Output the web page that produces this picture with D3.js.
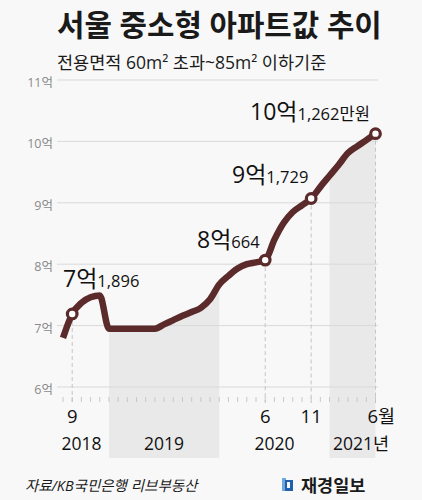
<!DOCTYPE html>
<html><head><meta charset="utf-8">
<script src="https://cdn.jsdelivr.net/npm/d3@7"></script>
<style>
html,body{margin:0;padding:0;background:#f8f8f8;}
svg{display:block;}
text{font-family:"Open Sans","Noto Sans CJK KR",sans-serif;}
</style></head>
<body>
<script>
// ---- data ----
const months = ["2018-08","2018-09","2018-10","2018-11","2018-12",
  "2019-01","2019-02","2019-03","2019-04","2019-05","2019-06","2019-07","2019-08","2019-09","2019-10","2019-11","2019-12",
  "2020-01","2020-02","2020-03","2020-04","2020-05","2020-06","2020-07","2020-08","2020-09","2020-10","2020-11","2020-12",
  "2021-01","2021-02","2021-03","2021-04","2021-05","2021-06"];
const prices = [6.80,7.1896,7.37,7.46,7.49,
  6.95,6.95,6.95,6.95,6.95,6.95,7.02,7.09,7.16,7.22,7.29,7.43,
  7.67,7.81,7.93,8.00,8.03,8.0664,8.40,8.67,8.85,8.96,9.07,9.26,
  9.44,9.62,9.81,9.92,10.02,10.1262];
const markedMonths = ["2018-09","2020-06","2020-11","2021-06"];
const markBig = ["7억","8억","9억","10억"];
const markSmall = ["1,896","664","1,729","1,262만원"];
const yTicks = [6,7,8,9,10,11];
const yTickLabels = ["6억","7억","8억","9억","10억","11억"];
const monthLabels = ["9","6","11","6"];
const yearLabels = ["2018","2019","2020","2021"];
const yearLabelAt = ["2018-10","2019-07","2020-07","2021-03.5"];
const bands = [["2019-01","2020-01"],["2021-01","2021-06"]];
const title = "서울 중소형 아파트값 추이";
const subtitle = "전용면적 60m² 초과~85m² 이하기준";
const source = "자료/KB국민은행 리브부동산";
const brand = "재경일보";

// ---- layout ----
const W = 422, H = 500;
const svg = d3.select("body").append("svg").attr("width", W).attr("height", H);
svg.append("rect").attr("width", W).attr("height", H).attr("fill", "#f8f8f8");

const idx = m => { const [y, mo] = m.split("-"); return (+y - 2018) * 12 + (+mo) - 8; };
const x = d3.scaleLinear().domain([1, 34]).range([72.2, 375.5]);
const y = d3.scaleLinear().domain([6, 11]).range([387, 80]);
const data = months.map((m, i) => ({ i: idx(m), v: prices[i], m }));
const lineColor = "#5b2a2a";
const bandBottom = 458;

// bands (area under the line)
bands.forEach(([a, b]) => {
  const seg = data.filter(d => d.i >= idx(a) && d.i <= idx(b));
  const area = d3.area().x(d => x(d.i)).y0(bandBottom).y1(d => y(d.v)).curve(d3.curveMonotoneX);
  svg.append("path").attr("d", area(seg)).attr("fill", "#e9e9e9");
});

// gridlines
const grid = svg.append("g");
yTicks.forEach((t, k) => {
  grid.append("line").attr("x1", 57).attr("x2", 378).attr("y1", y(t)).attr("y2", y(t))
    .attr("stroke", "#d9d9d9").attr("stroke-width", 1);
  grid.append("text").attr("x", 53).attr("y", y(t) + 7).attr("text-anchor", "end")
    .attr("font-size", 12.5).attr("fill", "#8a8a8a").text(yTickLabels[k]);
});

// month ticks
d3.range(0, 35).forEach(i => {
  svg.append("line").attr("x1", x(i)).attr("x2", x(i)).attr("y1", 397).attr("y2", 402)
    .attr("stroke", "#c8c8c8").attr("stroke-width", 1);
});

// dashed guides
markedMonths.forEach(m => {
  const d = data.find(e => e.m === m);
  svg.append("line").attr("x1", x(d.i)).attr("x2", x(d.i)).attr("y1", y(d.v)).attr("y2", 403)
    .attr("stroke", "#c4c4c4").attr("stroke-width", 1).attr("stroke-dasharray", "4,3");
});

// line
const line = d3.line().x(d => x(d.i)).y(d => y(d.v)).curve(d3.curveMonotoneX);
svg.append("path").attr("d", line(data)).attr("fill", "none").attr("stroke", lineColor)
  .attr("stroke-width", 6.5).attr("stroke-linejoin", "round").attr("stroke-linecap", "butt");

// markers
markedMonths.forEach(m => {
  const d = data.find(e => e.m === m);
  svg.append("circle").attr("cx", x(d.i)).attr("cy", y(d.v)).attr("r", 4.8)
    .attr("fill", "#fff").attr("stroke", lineColor).attr("stroke-width", 3.2);
});

// annotations
const annPos = [[63, 287], [197, 248], [232, 183], [250, 120]];
markedMonths.forEach((m, k) => {
  const t = svg.append("text").attr("x", annPos[k][0]).attr("y", annPos[k][1]).attr("fill", "#111");
  t.append("tspan").attr("font-size", 23).text(markBig[k]);
  t.append("tspan").attr("font-size", 16.5).text(markSmall[k]);
});

// month labels
markedMonths.forEach((m, k) => {
  const t = svg.append("text").attr("x", x(idx(m))).attr("y", 423).attr("font-size", 18.5)
    .attr("fill", "#111").attr("text-anchor", "middle").text(monthLabels[k]);
  if (k === markedMonths.length - 1) {
    t.attr("text-anchor", "start").attr("x", x(idx(m)) - 8);
    t.append("tspan").text("월");
  }
});
// year labels
yearLabels.forEach((yl, k) => {
  const p = yearLabelAt[k].split("-");
  const pos = (+p[0] - 2018) * 12 + (+p[1]) - 8;
  const t = svg.append("text").attr("x", x(pos)).attr("y", 450).attr("font-size", 17.5)
    .attr("fill", "#111").attr("text-anchor", "middle").text(yl);
  if (k === yearLabels.length - 1) {
    t.attr("text-anchor", "start").attr("x", 333);
    t.append("tspan").text("년");
  }
});

// titles
svg.append("text").attr("x", 57).attr("y", 36).attr("font-size", 29.8).attr("font-weight", 600)
  .attr("fill", "#1a1a1a").text(title);
svg.append("text").attr("x", 57).attr("y", 69).attr("font-size", 17.5)
  .attr("fill", "#1a1a1a").text(subtitle);

// footer
svg.append("text").attr("x", 25).attr("y", 491).attr("font-size", 14.5).attr("font-style", "italic")
  .attr("fill", "#1a1a1a").text(source);
const logo = svg.append("g").attr("transform", "translate(282,478)");
logo.append("rect").attr("x", 0).attr("y", 0).attr("width", 4).attr("height", 13).attr("fill", "#6fa8dc");
logo.append("rect").attr("x", 3).attr("y", 2).attr("width", 8).attr("height", 11).attr("fill", "#1f5fae");
logo.append("rect").attr("x", 5).attr("y", 4).attr("width", 3).attr("height", 6).attr("fill", "#f8f8f8");
svg.append("text").attr("x", 301).attr("y", 492).attr("font-size", 17.5).attr("font-weight", 700)
  .attr("fill", "#1a1a1a").text(brand);
</script>
</body></html>
